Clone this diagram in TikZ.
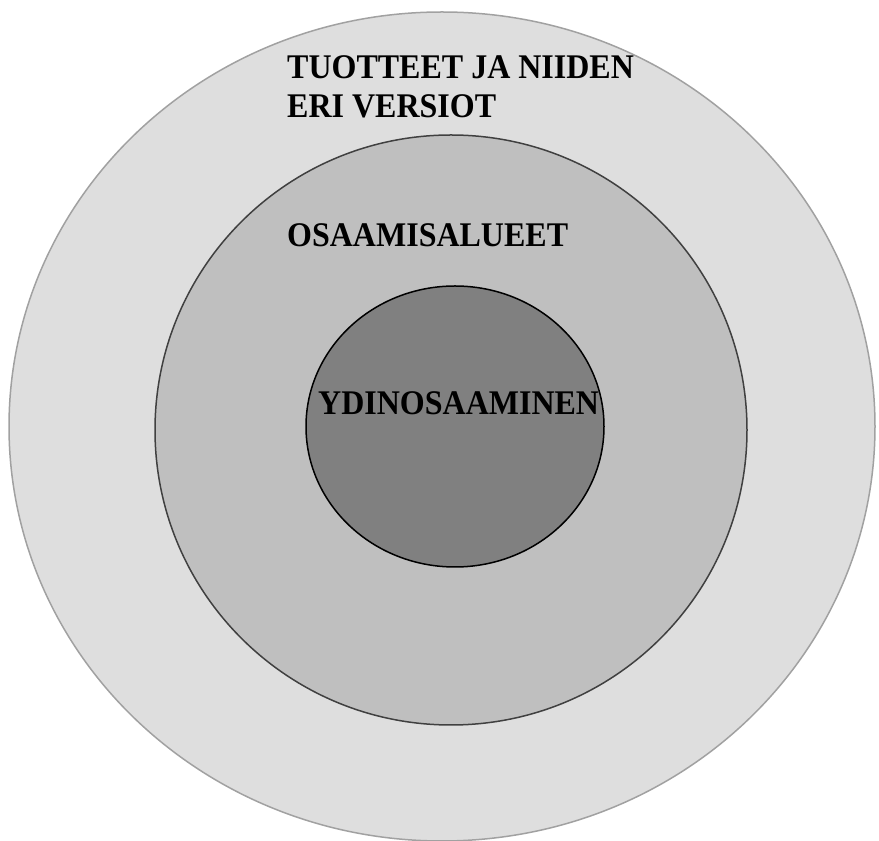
\documentclass[tikz,border=0pt]{standalone}
\usepackage{fontspec}
\setmainfont{Liberation Serif}
\usetikzlibrary{positioning}

\tikzset{
  ringlabel/.style={anchor=base west, inner sep=0pt, yscale=1.08, transform shape,
    font=\fontsize{32}{37}\selectfont\bfseries, align=left},
}

\begin{document}
\begin{tikzpicture}[x=1pt,y=1pt]
\useasboundingbox (0,0) rectangle (879,841);

%RINGS
\filldraw[fill=black!13, draw=black!37, line width=1.5pt] (442,414.5) ellipse (433 and 414.5);
\filldraw[fill=black!25, draw=black!75, line width=1.5pt] (451,411) ellipse (296 and 295);
\filldraw[fill=black!50, draw=black, line width=1.5pt] (455,414.5) ellipse (149 and 140.5);

%LABELS
\node[ringlabel] (tuotteet) at (287,723) {TUOTTEET JA NIIDEN\\ERI VERSIOT};
\node[ringlabel] (osaaminen) at (287,594) {OSAAMISALUEET};
\node[ringlabel] (ydin) at (318,426) {YDINOSAAMINEN};

\end{tikzpicture}
\end{document}
